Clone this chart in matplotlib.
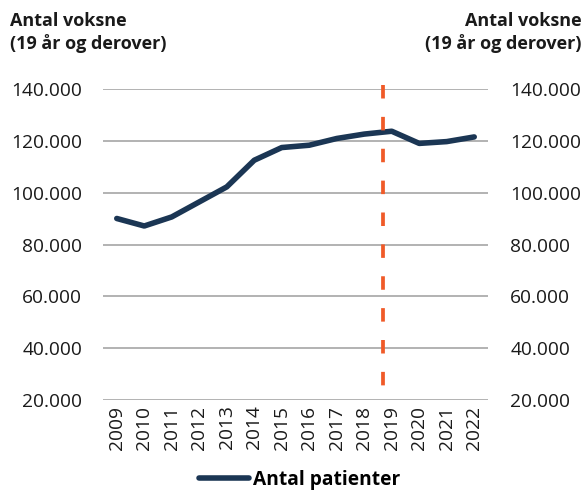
import matplotlib
matplotlib.use("Agg")
import matplotlib.pyplot as plt
from matplotlib.lines import Line2D

years = [2009, 2010, 2011, 2012, 2013, 2014, 2015, 2016, 2017, 2018, 2019, 2020, 2021, 2022]
patients = [90100, 87200, 90700, 96500, 102300, 112600, 117500, 118400, 121000, 122700, 123800, 119100, 119800, 121600]
yticks = [20000, 40000, 60000, 80000, 100000, 120000, 140000]
ytick_labels = ["20.000", "40.000", "60.000", "80.000", "100.000", "120.000", "140.000"]
marker_x = 2018.67
axis_title = "Antal voksne\n(19 år og derover)"
series_label = "Antal patienter"

plt.rcParams['font.family'] = ['Open Sans', 'DejaVu Sans']

fig = plt.figure(figsize=(5.87, 4.95), dpi=100)
ax = fig.add_axes([0.1755, 0.192, 0.6558, 0.6276])

navy = "#1b3654"
ax.plot(years, patients, color=navy, linewidth=4.0, solid_capstyle='round', solid_joinstyle='round', zorder=3)
ax.plot([marker_x, marker_x], [141800, 24500], color="#f05a28", linewidth=2.7,
        linestyle=(0, (3.6, 4.9)), clip_on=False, zorder=4)

ax.set_xlim(2008.5, 2022.5)
ax.set_ylim(20000, 140000)
ax.set_yticks(yticks)
ax.set_yticklabels(ytick_labels)
ax.set_xticks(years)
ax.set_xticklabels([str(y) for y in years], rotation=90)
ax.grid(axis='y', color="#a6a6a6", linewidth=1.2)
ax.set_axisbelow(True)
for s in ax.spines.values():
    s.set_visible(False)
ax.tick_params(axis='both', length=0, labelsize=13.8, colors="#1a1a1a")
ax.tick_params(axis='y', pad=15)
ax.tick_params(axis='x', pad=4)

ax2 = ax.twinx()
ax2.set_ylim(ax.get_ylim())
ax2.set_yticks(yticks)
ax2.set_yticklabels(ytick_labels)
for s in ax2.spines.values():
    s.set_visible(False)
ax2.tick_params(axis='y', length=0, labelsize=13.8, colors="#1a1a1a", pad=16)

fig.text(0.017, 0.975, axis_title, ha='left', va='top', fontsize=13, fontweight='bold', color="#1a1a1a", linespacing=1.25)
fig.text(0.99, 0.975, axis_title, ha='right', va='top', fontsize=13, fontweight='bold', color="#1a1a1a", linespacing=1.25, multialignment='right')

handle = Line2D([0], [0], color=navy, linewidth=4.0, solid_capstyle='round')
fig.legend([handle], [series_label], loc='lower center', bbox_to_anchor=(0.51, -0.025), frameon=False,
           prop={'size': 13.8, 'weight': 'bold'}, handlelength=2.6, handletextpad=0.2)

fig.savefig("out.png", dpi=100)
